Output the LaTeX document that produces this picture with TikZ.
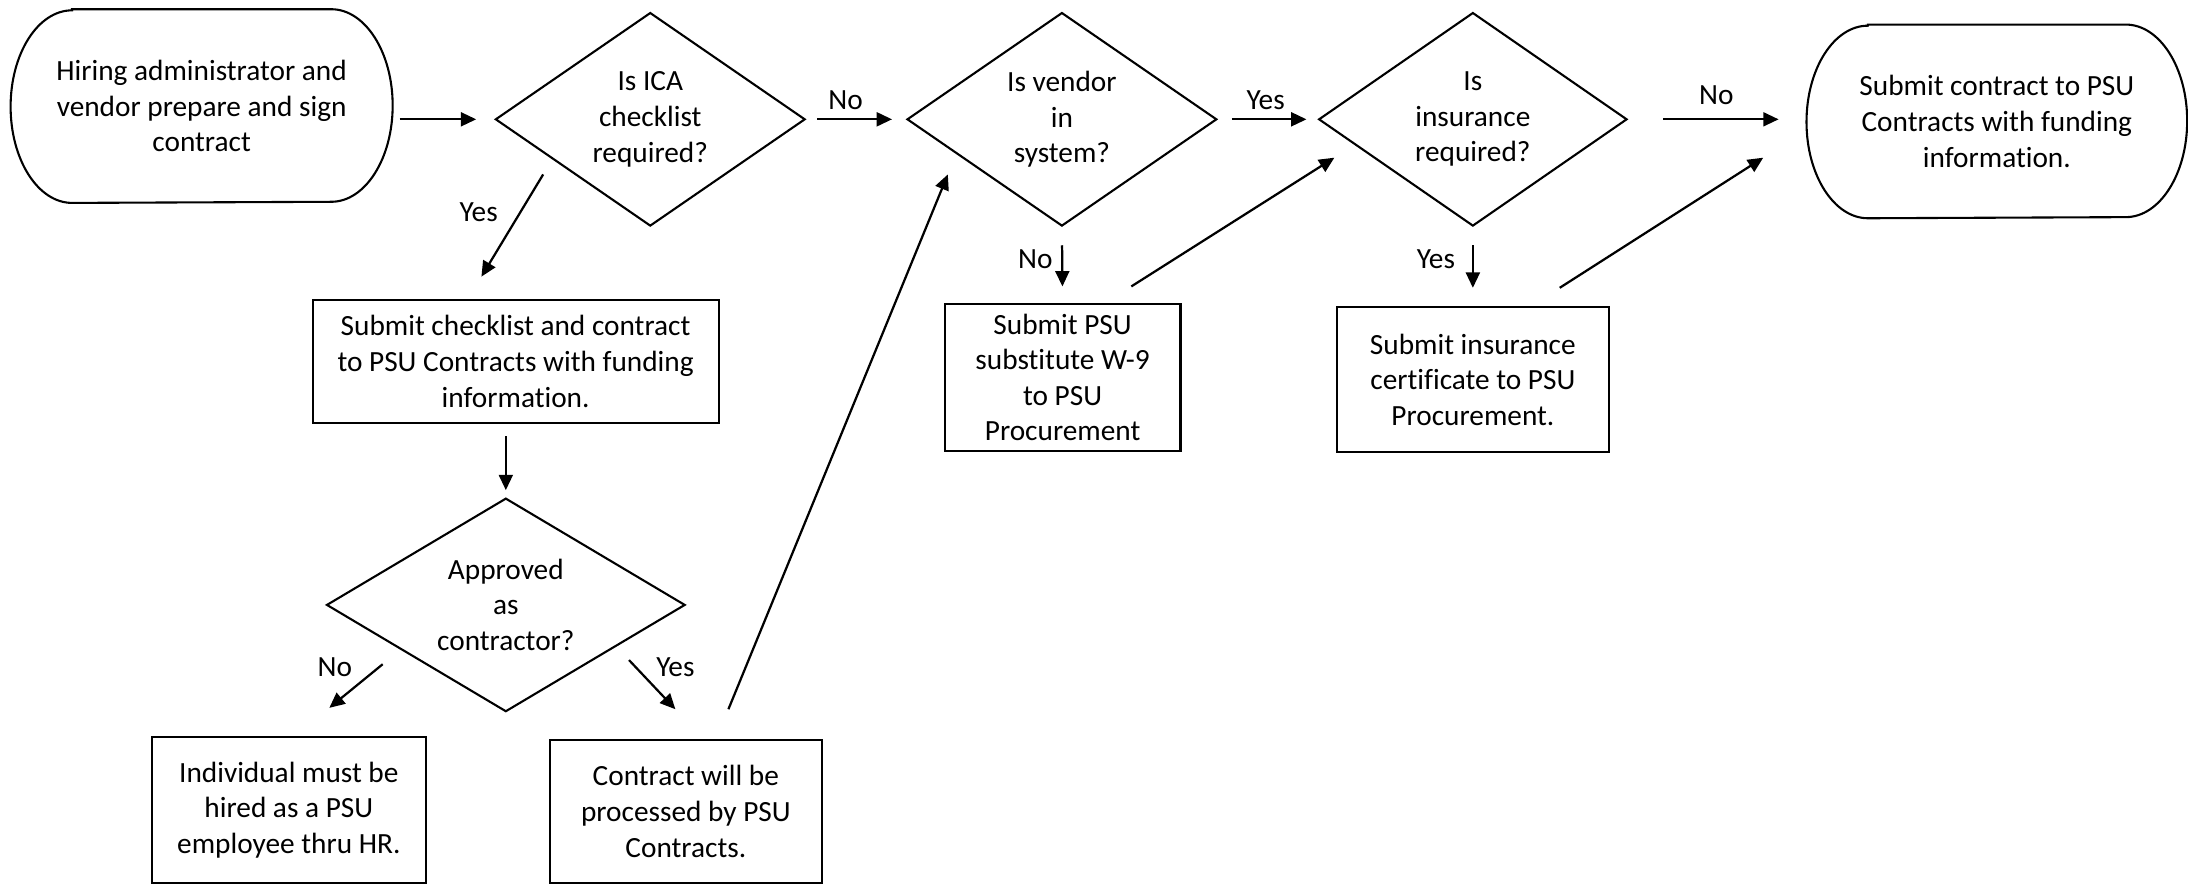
\documentclass[tikz,border=0pt]{standalone}
\usepackage{fontspec}
\setmainfont{Carlito}[Ligatures=NoCommon]
\usetikzlibrary{shapes.geometric,arrows.meta,calc}
\newcommand\termoutline[1]{\draw[line width=0.75pt] ([xshift=22pt]#1.north west) -- ([xshift=-22pt]#1.north east) arc[start angle=90,end angle=-90,x radius=22pt,y radius=34.5pt] -- ([xshift=22pt]#1.south west) arc[start angle=270,end angle=90,x radius=22pt,y radius=34.5pt] -- cycle;}
\begin{document}
\begin{tikzpicture}[x=0.5pt,y=-0.5pt,
  every node/.style={font=\fontsize{10.5}{12.75}\selectfont},
  box/.style={draw,line width=0.75pt,align=center,inner sep=0pt},
  dia/.style={draw,diamond,aspect=1.45,line width=0.75pt,align=center,inner sep=0pt,minimum width=111pt,minimum height=76.5pt},
  term/.style={align=center,inner sep=0pt,minimum width=136.5pt,minimum height=69pt},
  arr/.style={line width=0.8pt,-{Triangle[length=5.5pt,width=5pt]}},
  lbl/.style={inner sep=0pt}]
\useasboundingbox (0,0) rectangle (1568,634);

% terminals
\node[term] (start) at (144.5,76) {Hiring administrator and\\vendor prepare and sign\\contract};
\termoutline{start}
\node[term,minimum width=136pt] (end) at (1431,87) {Submit contract to PSU\\Contracts with funding\\information.};
\termoutline{end}

% decisions
\node[dia] (d1) at (466,85.5) {Is ICA\\checklist\\required?};
\node[dia] (d2) at (761,85.5) {Is vendor\\in\\system?};
\node[dia,minimum width=110.5pt] (d3) at (1055.5,85.5) {Is\\insurance\\required?};
\node[dia,aspect=1.68,minimum width=128.5pt] (d4) at (362.5,433.5) {Approved\\as\\contractor?};

% boxes
\node[box,minimum width=145.5pt,minimum height=44pt] (b1) at (369.5,259) {Submit checklist and contract\\to PSU Contracts with funding\\information.};
\node[box,minimum width=98pt,minimum height=52.5pt] (b2) at (207,580.5) {Individual must be\\hired as a PSU\\employee thru HR.};
\node[box,minimum width=97.5pt,minimum height=51.5pt] (b3) at (491.5,581.5) {Contract will be\\processed by PSU\\Contracts.};
\node[box,minimum width=84.5pt,minimum height=52.5pt] (b4) at (761.5,270.5) {Submit PSU\\substitute W-9\\to PSU\\Procurement};
\node[box,minimum width=97.5pt,minimum height=52pt] (b5) at (1055.5,272) {Submit insurance\\certificate to PSU\\Procurement.};

% connectors
\draw[arr,shorten <=2.5pt,shorten >=6.5pt] (start.east |- d1.west) -- (d1.west);
\draw[arr,shorten <=4pt,shorten >=5pt] (d1.east) -- (d2.west);
\draw[arr,shorten <=5pt,shorten >=4pt] (d2.east) -- (d3.west);
\draw[arr,shorten <=12.5pt,shorten >=10pt] (d3.east) -- (end.west |- d3.east);
\draw[arr] ($(d1.west)+(35,39.5)$) -- ($(b1.north)+(-24.5,-16)$);
\draw[arr,shorten <=4.5pt,shorten >=2.5pt] (d4.north |- b1.south) -- (d4.north);
\draw[arr] ($(d4.west)+(41,42.5)$) -- ($(b2.north)+(29,-20)$);
\draw[arr] ($(d4.east)+(-41,39.5)$) -- ($(b3.north)+(-7.5,-21)$);
\draw[arr] ($(b3.north)+(30.5,-21)$) -- ($(d2.west)+(30,39.5)$);
\draw[arr,shorten <=6.5pt,shorten >=6pt] (d2.south) -- (b4.north);
\draw[arr] ($(b4.north east)+(-36,-12)$) -- ($(d3.west)+(12,27.5)$);
\draw[arr,shorten <=6.5pt,shorten >=6.5pt] (d3.south) -- (b5.north);
\draw[arr] ($(b5.north east)+(-36,-13)$) -- ($(end.west)+(-31,26)$);

% labels
\node[lbl] (l1) at (606,72) {No};
\node[lbl] (l2) at (907,72) {Yes};
\node[lbl] (l3) at (1230,68) {No};
\node[lbl] (l4) at (343,152) {Yes};
\node[lbl] (l5) at (240,478) {No};
\node[lbl] (l6) at (484,478) {Yes};
\node[lbl] (l7) at (742,186) {No};
\node[lbl] (l8) at (1029,186) {Yes};
\end{tikzpicture}
\end{document}
